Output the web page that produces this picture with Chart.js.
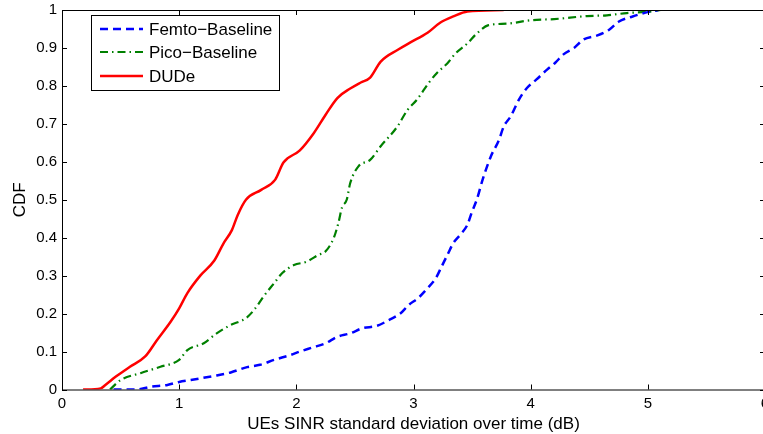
<!DOCTYPE html>
<html><head><meta charset="utf-8">
<script src="https://cdn.jsdelivr.net/npm/chart.js@4/dist/chart.umd.min.js"></script>
<style>html,body{margin:0;padding:0;background:#fff;overflow:hidden;width:763px;height:434px}#wrap{width:766px;height:434px;position:relative}</style>
</head><body><div id="wrap"><canvas id="c" width="766" height="434"></canvas></div>
<script>
const seriesNames = ["Femto\u2212Baseline", "Pico\u2212Baseline", "DUDe"];
const xTicks = [0,1,2,3,4,5,6];
const yTicks = [0,0.1,0.2,0.3,0.4,0.5,0.6,0.7,0.8,0.9,1];
const femtoX = [0.44,0.64,0.755,0.90,1.0,1.10,1.30,1.44,1.58,1.69,1.81,1.95,2.03,2.13,2.25,2.35,2.46,2.56,2.69,2.79,2.89,2.96,3.04,3.12,3.19,3.24,3.29,3.34,3.40,3.46,3.50,3.54,3.59,3.66,3.73,3.77,3.83,3.90,3.97,4.05,4.14,4.21,4.28,4.37,4.45,4.57,4.67,4.75,4.87,4.98,5.09];
const femtoY = [0,0,0.007,0.012,0.02,0.025,0.036,0.045,0.059,0.065,0.078,0.091,0.10,0.11,0.122,0.139,0.148,0.161,0.168,0.183,0.201,0.223,0.241,0.267,0.293,0.324,0.355,0.386,0.408,0.434,0.469,0.50,0.553,0.614,0.658,0.693,0.72,0.764,0.795,0.817,0.843,0.861,0.883,0.90,0.922,0.933,0.948,0.969,0.983,0.993,1.0];
const picoX = [0.41,0.50,0.67,0.84,1.0,1.07,1.21,1.32,1.44,1.57,1.64,1.72,1.81,1.88,1.98,2.09,2.19,2.25,2.32,2.36,2.39,2.43,2.46,2.53,2.63,2.72,2.86,2.95,3.03,3.13,3.20,3.29,3.36,3.46,3.54,3.64,3.80,4.0,4.2,4.48,4.65,4.82,4.99,5.11];
const picoY = [0,0.025,0.043,0.06,0.078,0.104,0.122,0.148,0.17,0.188,0.21,0.245,0.28,0.307,0.328,0.337,0.355,0.364,0.40,0.44,0.48,0.50,0.544,0.588,0.605,0.641,0.692,0.737,0.764,0.808,0.834,0.86,0.886,0.912,0.938,0.96,0.964,0.973,0.976,0.984,0.986,0.992,0.995,1.0];
const dudeX = [0.18,0.33,0.37,0.46,0.58,0.71,0.81,0.93,1.0,1.07,1.18,1.30,1.38,1.45,1.50,1.57,1.70,1.82,1.89,2.03,2.15,2.25,2.35,2.46,2.55,2.63,2.72,2.87,2.97,3.12,3.23,3.34,3.46,3.77];
const dudeY = [0,0.003,0.012,0.034,0.06,0.087,0.13,0.18,0.214,0.254,0.30,0.34,0.386,0.42,0.46,0.50,0.526,0.553,0.598,0.63,0.676,0.724,0.768,0.793,0.809,0.822,0.864,0.896,0.914,0.94,0.967,0.983,0.996,1.0];

const pts = (xs, ys) => xs.map((x, i) => ({x, y: ys[i]}));
const FONT = "'Liberation Sans', Arial, Helvetica, sans-serif";
const fmt = v => String(Math.round(v * 10) / 10);

const boxPlugin = {
  id: 'matlabBox',
  afterDatasetsDraw(chart) {
    const {ctx, chartArea: a, scales} = chart;
    ctx.save();
    ctx.strokeStyle = '#000';
    ctx.lineWidth = 1;
    ctx.strokeRect(a.left + 0.5, a.top + 0.5, a.right - a.left, a.bottom - a.top);
    ctx.beginPath();
    const L = 5;
    xTicks.forEach(v => {
      const px = Math.round(scales.x.getPixelForValue(v)) + 0.5;
      ctx.moveTo(px, a.bottom); ctx.lineTo(px, a.bottom - L);
      ctx.moveTo(px, a.top); ctx.lineTo(px, a.top + L);
    });
    yTicks.forEach(v => {
      const py = Math.round(scales.y.getPixelForValue(v)) + 0.5;
      ctx.moveTo(a.left, py); ctx.lineTo(a.left + L, py);
      ctx.moveTo(a.right, py); ctx.lineTo(a.right - L, py);
    });
    ctx.stroke();
    // legend
    const lx = 91.5, ly = 15.5, lw = 188, lh = 75;
    ctx.fillStyle = '#fff';
    ctx.fillRect(lx, ly, lw, lh);
    ctx.strokeRect(lx, ly, lw, lh);
    const rows = [29, 52, 76];
    chart.data.datasets.forEach((ds, i) => {
      ctx.save();
      ctx.strokeStyle = ds.borderColor;
      ctx.lineWidth = ds.borderWidth;
      ctx.setLineDash(ds.borderDash || []);
      ctx.beginPath();
      ctx.moveTo(100, rows[i]); ctx.lineTo(143, rows[i]);
      ctx.stroke();
      ctx.restore();
      ctx.fillStyle = '#000';
      ctx.font = '17px ' + FONT;
      ctx.textBaseline = 'middle';
      ctx.fillText(ds.label, 149, rows[i] + 1);
    });
    ctx.restore();
  }
};

new Chart(document.getElementById('c'), {
  type: 'line',
  data: {
    datasets: [
      {label: seriesNames[0], data: pts(femtoX, femtoY), borderColor: '#0000ff', borderWidth: 2.5, borderDash: [8, 5], pointRadius: 0, fill: false, cubicInterpolationMode: 'monotone'},
      {label: seriesNames[1], data: pts(picoX, picoY), borderColor: '#008000', borderWidth: 2.2, borderDash: [8, 4, 1.5, 4], pointRadius: 0, fill: false, cubicInterpolationMode: 'monotone'},
      {label: seriesNames[2], data: pts(dudeX, dudeY), borderColor: '#ff0000', borderWidth: 2.5, pointRadius: 0, fill: false, cubicInterpolationMode: 'monotone'}
    ]
  },
  options: {
    responsive: false,
    animation: false,
    layout: {padding: {top: 10, right: 1, left: 0, bottom: 0}},
    plugins: {legend: {display: false}, tooltip: {enabled: false}},
    scales: {
      x: {
        type: 'linear', min: 0, max: 6,
        afterBuildTicks: s => { s.ticks = xTicks.map(v => ({value: v})); },
        ticks: {color: '#000', font: {family: FONT, size: 15}, padding: 5, maxRotation: 0, callback: v => fmt(v)},
        grid: {display: false, drawTicks: false},
        border: {display: false},
        title: {display: true, text: 'UEs SINR standard deviation over time (dB)', color: '#000', font: {family: FONT, size: 17}, padding: {top: 2, bottom: -1}},
        afterFit: s => { s.height = 44.5; s.paddingLeft = 0; s.paddingRight = 0; }
      },
      y: {
        type: 'linear', min: 0, max: 1,
        afterBuildTicks: s => { s.ticks = yTicks.map(v => ({value: v})); },
        ticks: {color: '#000', font: {family: FONT, size: 15}, padding: 5, callback: v => fmt(v)},
        grid: {display: false, drawTicks: false},
        border: {display: false},
        title: {display: true, text: 'CDF', color: '#000', font: {family: FONT, size: 17}, padding: {top: 10, bottom: 0}},
        afterFit: s => { s.width = 62; s.paddingTop = 0; s.paddingBottom = 0; }
      }
    }
  },
  plugins: [boxPlugin]
});
</script></body></html>
